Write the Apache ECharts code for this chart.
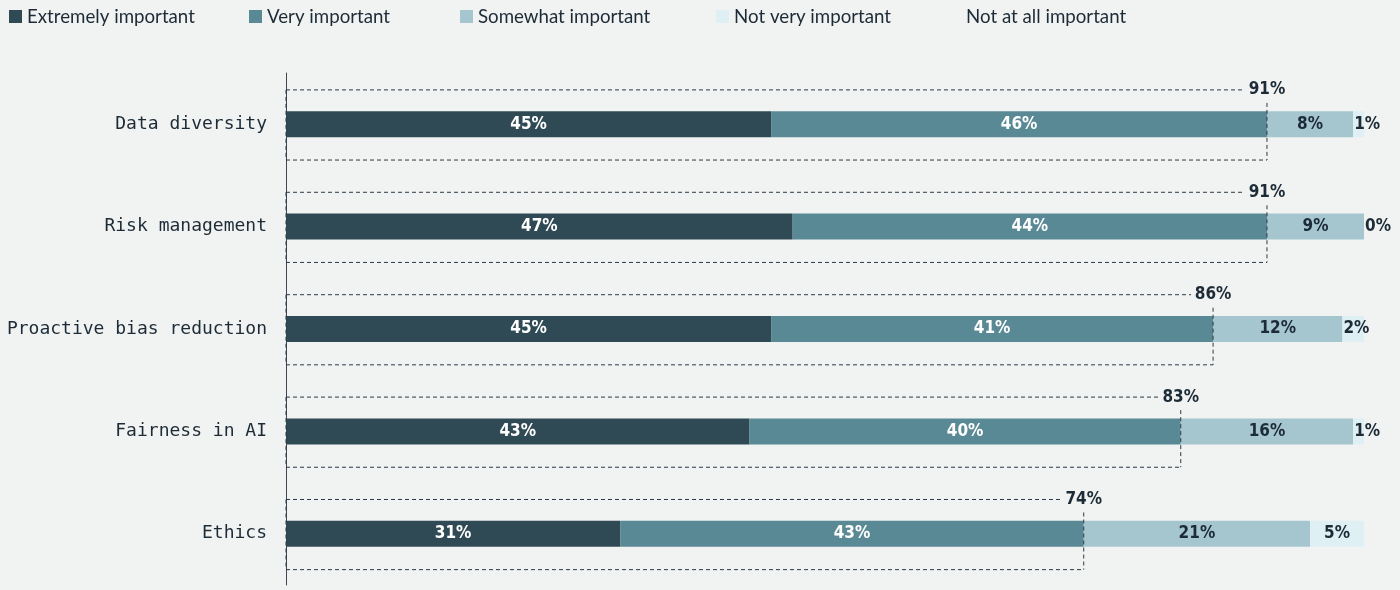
<!DOCTYPE html>
<html>
<head>
<meta charset="utf-8">
<script src="https://cdn.jsdelivr.net/npm/echarts@6/dist/echarts.min.js"></script>
<style>
  html, body { margin: 0; padding: 0; background: #f1f2f2; }
  #chart { width: 1400px; height: 590px; }
</style>
</head>
<body>
<div id="chart"></div>
<script>
// Survey: importance of responsible-AI topics (percent of respondents)
const categories = ['Data diversity', 'Risk management', 'Proactive bias reduction', 'Fairness in AI', 'Ethics'];
const seriesNames = ['Extremely important', 'Very important', 'Somewhat important', 'Not very important', 'Not at all important'];
const extremely = [45, 47, 45, 43, 31];
const very = [46, 44, 41, 40, 43];
const somewhat = [8, 9, 12, 16, 21];
const notVery = [1, 0, 2, 1, 5];
const notAtAll = [0, 0, 0, 0, 0];

const colors = ['#2f4a54', '#5a8996', '#a6c6cf', '#dff0f4', 'rgba(0,0,0,0)'];
const labelColors = ['#ffffff', '#ffffff', '#1c2b36', '#1c2b36', '#1c2b36'];
const valueSets = [extremely, very, somewhat, notVery, notAtAll];

// "Extremely" + "Very" combined, shown by the dashed bracket
const topTwo = extremely.map((v, i) => v + very[i]);

const mono = 'DejaVu Sans Mono';
const narrow = 'DejaVu Sans Condensed';
const textDark = '#1c2b36';

const barSeries = valueSets.map((vals, s) => ({
  name: seriesNames[s],
  type: 'bar',
  stack: 'total',
  barWidth: 26,
  itemStyle: { color: colors[s] },
  data: vals.map(v => ({
    value: v,
    label: v <= 2 ? { position: 'insideLeft', distance: 1 } : undefined
  })),
  label: {
    show: s < 4,
    position: 'inside',
    formatter: p => p.value + '%',
    color: labelColors[s],
    fontFamily: narrow,
    fontWeight: 'bold',
    fontSize: 17
  },
  emphasis: { disabled: true },
  silent: true,
  z: 3
}));

const bracketSeries = {
  type: 'custom',
  name: 'bracket',
  data: topTwo.map((t, i) => [t, i]),
  encode: { x: 0, y: 1 },
  z: 5,
  silent: true,
  renderItem(params, api) {
    const total = api.value(0);
    const idx = api.value(1);
    const p0 = api.coord([0, idx]);
    const p1 = api.coord([total, idx]);
    const band = api.size([0, 1])[1];
    const yTop = p0[1] - band * 0.335;
    const yBot = p0[1] + band * 0.35;
    const dash = { stroke: '#2d3a45', lineWidth: 1, lineDash: [4, 3], fill: null };
    return {
      type: 'group',
      children: [
        { type: 'line', shape: { x1: p0[0], y1: yTop, x2: p1[0] - 22, y2: yTop }, style: dash },
        { type: 'line', shape: { x1: p0[0], y1: yTop, x2: p0[0], y2: yBot }, style: dash },
        { type: 'line', shape: { x1: p1[0], y1: yTop + 13, x2: p1[0], y2: yBot }, style: dash },
        { type: 'line', shape: { x1: p0[0], y1: yBot, x2: p1[0], y2: yBot }, style: dash },
        {
          type: 'text',
          style: {
            x: p1[0], y: yTop,
            text: total + '%',
            align: 'center', verticalAlign: 'middle',
            fill: textDark,
            font: 'bold 17px "' + narrow + '"'
          }
        }
      ]
    };
  }
};

const legendLeft = [9, 249, 460, 716, 948];
const legends = seriesNames.map((n, i) => ({
  data: [n],
  left: legendLeft[i],
  top: 7,
  padding: 0,
  icon: 'rect',
  itemWidth: 13,
  itemHeight: 13,
  selectedMode: false,
  textStyle: { fontFamily: 'Lato', fontSize: 18.7, color: textDark }
}));

const chart = echarts.init(document.getElementById('chart'));
chart.setOption({
  backgroundColor: '#f1f2f2',
  animation: false,
  legend: legends,
  grid: { left: 286, right: 36, top: 73, bottom: 5 },
  xAxis: {
    type: 'value',
    min: 0,
    max: 100,
    show: false
  },
  yAxis: {
    type: 'category',
    data: categories,
    inverse: true,
    axisLine: { show: true, lineStyle: { color: '#3f464d', width: 1 } },
    axisTick: { show: false },
    axisLabel: { fontFamily: mono, fontSize: 18, color: textDark, margin: 19 }
  },
  series: [...barSeries, bracketSeries]
});
</script>
</body>
</html>
